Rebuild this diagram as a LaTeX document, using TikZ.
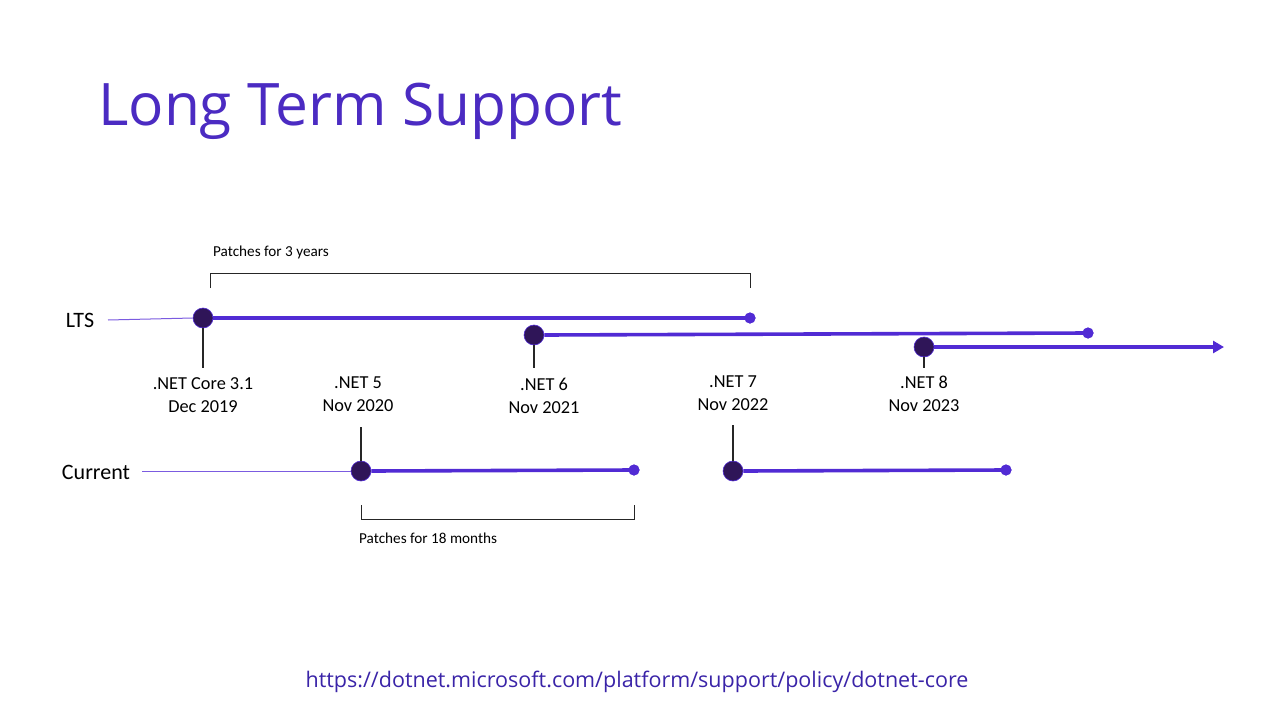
\documentclass[tikz,border=0pt]{standalone}
\usepackage{fontspec}
\setmainfont{Carlito}
\newfontfamily\titlefont{Open Sans}
\usetikzlibrary{arrows.meta}
\definecolor{netpurple}{HTML}{512BD4}
\definecolor{titlepurple}{HTML}{4B2BC2}
\definecolor{darkdot}{HTML}{2F1558}
\definecolor{thinpurple}{HTML}{7B5BE0}
\definecolor{urlblue}{HTML}{3A24A8}
\tikzset{
  rel/.style={circle,fill=darkdot,draw=netpurple,line width=0.6pt,minimum size=20pt,inner sep=0pt},
  enddot/.style={circle,fill=netpurple,minimum size=11pt,inner sep=0pt},
  span/.style={netpurple,line width=3.6pt},
  lead/.style={thinpurple,line width=1pt},
  tick/.style={black!85,line width=1.4pt},
  brack/.style={black!85,line width=1pt},
  lbl/.style={font=\fontsize{18.3}{22.5}\selectfont,align=center,inner sep=0pt},
  row/.style={font=\fontsize{22}{26}\selectfont,inner sep=0pt},
  note/.style={font=\fontsize{15.2}{18}\selectfont,inner sep=0pt,anchor=west},
}
\begin{document}
\begin{tikzpicture}[x=1pt,y=-1pt]
\useasboundingbox (0,0) rectangle (1280,720);
\fill[white] (0,0) rectangle (1280,720);
% title
\node[anchor=base west,inner sep=0pt,text=titlepurple,font=\titlefont\fontsize{58.6}{64}\selectfont] (title) at (98,125) {Long Term Support};
% row labels
\node[row] (lts) at (80,320) {LTS};
\node[row] (cur) at (96,472) {Current};
\coordinate (ltsl) at (108,320);
\coordinate (curl) at (142,471);
% LTS releases
\node[rel] (c31) at (203,318) {};
\node[enddot] (e31) at (750,318) {};
\node[rel] (n6) at (534,335) {};
\node[enddot] (e6) at (1088,333) {};
\node[rel] (n8) at (924,347) {};
\coordinate (a8) at (1224,347);
% Current releases
\node[rel] (n5) at (361,471) {};
\node[enddot] (e5) at (634,470) {};
\node[rel] (n7) at (733,471) {};
\node[enddot] (e7) at (1006,470) {};
% lead lines
\draw[lead] (ltsl) -- (c31.west);
\draw[lead] (curl) -- (n5.west);
% spans
\draw[span] (c31.east) -- (e31.center);
\draw[span] (n6.east) -- (e6.center);
\draw[span,-{Triangle[length=11pt,width=12pt]}] (n8.east) -- (a8);
\draw[span] (n5.east) -- (e5.center);
\draw[span] (n7.east) -- (e7.center);
\node[enddot] at (e31) {};
\node[enddot] at (e6) {};
\node[enddot] at (e5) {};
\node[enddot] at (e7) {};
% labels
\node[lbl] (l31) at (203,395) {.NET Core 3.1\\Dec 2019};
\node[lbl] (l6) at (544,396) {.NET 6\\Nov 2021};
\node[lbl] (l8) at (924,394) {.NET 8\\Nov 2023};
\node[lbl] (l5) at (358,394) {.NET 5\\Nov 2020};
\node[lbl] (l7) at (733,393) {.NET 7\\Nov 2022};
% ticks
\draw[tick] (c31.south) -- (203,368);
\draw[tick] (n6.south) -- (534,368);
\draw[tick] (n8.south) -- (924,368);
\draw[tick] (n5.north) -- (361,427);
\draw[tick] (n7.north) -- (733,425);
% brackets
\coordinate (b3l) at (210,288);
\coordinate (b3r) at (750,288);
\draw[brack] (b3l) -- (210,273) -- (750,273) -- (b3r);
\node[note] (p3) at (213,252) {Patches for 3 years};
\coordinate (b18l) at (361,505);
\coordinate (b18r) at (634,505);
\draw[brack] (b18l) -- (361,519) -- (634,519) -- (b18r);
\node[note] (p18) at (359,538) {Patches for 18 months};
% url
\node[text=urlblue,font=\titlefont\fontsize{21.5}{25}\selectfont,inner sep=0pt] (url) at (637,682) {https://dotnet.microsoft.com/platform/support/policy/dotnet-core};
\end{tikzpicture}
\end{document}
